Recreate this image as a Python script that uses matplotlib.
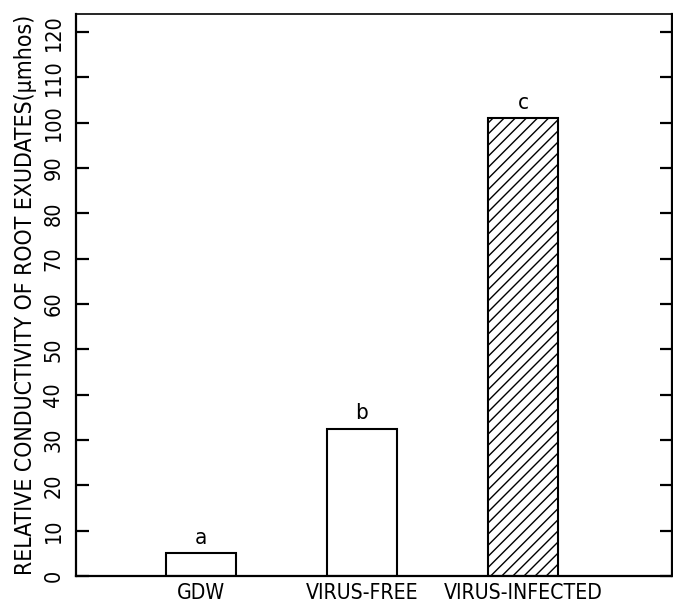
import matplotlib
matplotlib.use("Agg")
import matplotlib.pyplot as plt

plt.rcParams['font.family'] = ['DejaVu Sans']
plt.rcParams['font.stretch'] = 'condensed'
plt.rcParams['hatch.linewidth'] = 1.0

# data
categories = ['GDW', 'VIRUS-FREE', 'VIRUS-INFECTED']
values = [5, 32.5, 101]
letters = ['a', 'b', 'c']
hatches = ['', '', '///']
yticks = list(range(0, 121, 10))

fig = plt.figure(figsize=(6.73, 6.02), dpi=100)
ax = fig.add_axes([0.1129, 0.0432, 0.8856, 0.9335])

x = list(range(len(categories)))
bars = ax.bar(x, values, width=0.435, color='white', edgecolor='black',
              linewidth=1.5)
for b, h in zip(bars, hatches):
    b.set_hatch(h)

for xi, v, lt in zip(x, values, letters):
    ax.text(xi, v + 1.2, lt, ha='center', va='bottom', fontsize=16)

ax.set_xlim(-0.776, 2.925)
ax.set_ylim(0, 124)
ax.set_yticks(yticks)
ax.set_yticklabels([str(t) for t in yticks], rotation=90, va='center',
                   fontsize=15.5)
ax.set_xticks(x)
ax.set_xticklabels(categories, fontsize=15.2)
ax.tick_params(axis='x', length=0, pad=5)
ax.tick_params(axis='y', direction='in', length=9, width=1.6, right=True,
               pad=9)

ax.set_ylabel('RELATIVE CONDUCTIVITY OF ROOT EXUDATES(\u03bcmhos)',
              fontsize=16.5, labelpad=5)

for s in ['left', 'bottom', 'right']:
    ax.spines[s].set_linewidth(1.6)
ax.spines['top'].set_linewidth(1.2)

fig.savefig('out.png', dpi=100)
